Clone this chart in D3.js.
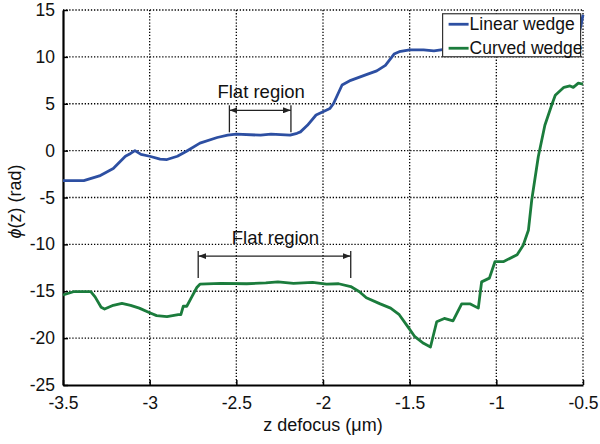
<!DOCTYPE html>
<html>
<head>
<meta charset="utf-8">
<script src="https://cdn.jsdelivr.net/npm/d3@7"></script>
<style>
  body { margin: 0; background: #fff; }
  svg text { font-family: "Liberation Sans", Arial, sans-serif; fill: #111; }
</style>
</head>
<body>
<div class="chart"></div>
<script>
// ---- data ----
const xTicks = [-3.5, -3, -2.5, -2, -1.5, -1, -0.5]
const yTicks = [-25, -20, -15, -10, -5, 0, 5, 10, 15]

const linearZ = [-3.5,-3.38,-3.29,-3.21,-3.14,-3.11,-3.085,-3.05,-3.0,-2.94,-2.9,-2.84,-2.79,-2.71,-2.61,-2.55,-2.5,-2.36,-2.3,-2.19,-2.15,-2.13,-2.09,-2.04,-1.96,-1.94,-1.89,-1.84,-1.75,-1.69,-1.64,-1.59,-1.56,-1.5,-1.42,-1.36,-1.3,-1.1,-0.9,-0.7,-0.58,-0.53,-0.51,-0.5]
const linearPhi = [-3.2,-3.2,-2.7,-1.9,-0.6,-0.3,0.0,-0.4,-0.6,-0.9,-0.95,-0.6,-0.1,0.8,1.4,1.65,1.75,1.65,1.75,1.65,1.85,2.0,2.7,3.8,4.5,5.0,7.0,7.5,8.1,8.5,9.1,10.3,10.55,10.75,10.75,10.65,10.8,10.9,11.0,11.2,11.5,12.0,13.5,14.5]

const curvedZ = [-3.5,-3.44,-3.34,-3.315,-3.28,-3.26,-3.21,-3.16,-3.11,-3.06,-3.0,-2.96,-2.9,-2.835,-2.82,-2.806,-2.786,-2.757,-2.728,-2.71,-2.59,-2.44,-2.33,-2.26,-2.17,-2.06,-1.98,-1.91,-1.84,-1.79,-1.75,-1.67,-1.61,-1.56,-1.51,-1.47,-1.42,-1.38,-1.344,-1.3,-1.25,-1.2,-1.15,-1.104,-1.085,-1.04,-1.008,-0.96,-0.88,-0.845,-0.815,-0.796,-0.758,-0.72,-0.68,-0.66,-0.61,-0.575,-0.556,-0.527,-0.5]
const curvedPhi = [-15.4,-15.05,-15.05,-15.6,-16.7,-16.9,-16.5,-16.3,-16.5,-16.8,-17.3,-17.6,-17.7,-17.5,-17.5,-16.6,-16.6,-15.6,-14.6,-14.25,-14.15,-14.2,-14.1,-14.0,-14.15,-14.05,-14.25,-14.2,-14.5,-15.05,-15.7,-16.35,-16.8,-17.5,-18.8,-19.85,-20.55,-20.95,-18.25,-17.9,-18.15,-16.35,-16.35,-16.8,-14.0,-13.6,-11.85,-11.85,-11.1,-10.1,-8.5,-5.3,-0.65,2.7,4.9,5.9,6.75,6.9,6.75,7.2,7.1]

const seriesNames = ["Linear wedge", "Curved wedge"]
const seriesColors = ["#2d4fa2", "#1b7c3c"]

// flat region annotations: z range and phi where the arrow sits
const flatFrom = [-2.54, -2.72]
const flatTo = [-2.185, -1.84]
const flatAt = [4.3, -11.25]
const flatLabel = ["Flat region", "Flat region"]

// ---- layout ----
const dimensions = {
  width: 600,
  height: 444,
  margin: { top: 10, right: 17, bottom: 59, left: 63 },
}
dimensions.boundedWidth = dimensions.width - dimensions.margin.left - dimensions.margin.right
dimensions.boundedHeight = dimensions.height - dimensions.margin.top - dimensions.margin.bottom

const svg = d3.select(".chart").append("svg")
  .attr("width", dimensions.width)
  .attr("height", dimensions.height)

const bounds = svg.append("g")
  .attr("transform", `translate(${dimensions.margin.left},${dimensions.margin.top})`)

const xScale = d3.scaleLinear().domain([-3.5, -0.5]).range([0, dimensions.boundedWidth])
const yScale = d3.scaleLinear().domain([-25, 15]).range([dimensions.boundedHeight, 0])

// dotted grid
bounds.append("g").selectAll("line")
  .data(xTicks.slice(1))
  .join("line")
    .attr("x1", d => xScale(d)).attr("x2", d => xScale(d))
    .attr("y1", 0).attr("y2", dimensions.boundedHeight)
    .attr("stroke", "#000").attr("stroke-width", 1.3).attr("stroke-dasharray", "1.3,1.8")

bounds.append("g").selectAll("line")
  .data(yTicks.slice(1))
  .join("line")
    .attr("y1", d => yScale(d)).attr("y2", d => yScale(d))
    .attr("x1", 0).attr("x2", dimensions.boundedWidth)
    .attr("stroke", "#000").attr("stroke-width", 1.3).attr("stroke-dasharray", "1.3,1.8")

// axes
const xAxis = d3.axisBottom(xScale).tickValues(xTicks).tickSizeInner(-5).tickSizeOuter(0).tickPadding(12)
  .tickFormat(d => String(d))
const yAxis = d3.axisLeft(yScale).tickValues(yTicks).tickSizeInner(-5).tickSizeOuter(0).tickPadding(8)
  .tickFormat(d => String(d))

const gx = bounds.append("g")
  .attr("transform", `translate(0,${dimensions.boundedHeight})`)
  .call(xAxis)
const gy = bounds.append("g").call(yAxis)

;[gx, gy].forEach(g => {
  g.select(".domain").attr("stroke", "#000").attr("stroke-width", 2.2)
  g.selectAll(".tick line").attr("stroke", "#000").attr("stroke-width", 1.5)
  g.selectAll(".tick text")
    .attr("font-family", "Liberation Sans, Arial, sans-serif")
    .attr("font-size", 17.5).attr("fill", "#111")
})
gx.selectAll(".tick text").attr("dy", "0.71em")

// lines
const line = d3.line().x(d => xScale(d[0])).y(d => yScale(d[1]))
const series = [
  d3.zip(linearZ, linearPhi),
  d3.zip(curvedZ, curvedPhi),
]
bounds.selectAll("path.series")
  .data(series)
  .join("path")
    .attr("class", "series")
    .attr("d", line)
    .attr("fill", "none")
    .attr("stroke", (d, i) => seriesColors[i])
    .attr("stroke-width", 2.8)
    .attr("stroke-linejoin", "round")

// flat region annotations
svg.append("defs").append("marker")
  .attr("id", "arrow")
  .attr("viewBox", "0 0 8 6")
  .attr("refX", 8).attr("refY", 3)
  .attr("markerWidth", 8).attr("markerHeight", 6)
  .attr("markerUnits", "userSpaceOnUse")
  .attr("orient", "auto-start-reverse")
  .append("path").attr("d", "M0,0 L8,3 L0,6 Z").attr("fill", "#222")

const flats = flatFrom.map((f, i) => ({ from: f, to: flatTo[i], at: flatAt[i], label: flatLabel[i] }))
const ann = bounds.append("g").selectAll("g").data(flats).join("g")
ann.append("line")
  .attr("x1", d => xScale(d.from)).attr("x2", d => xScale(d.to))
  .attr("y1", d => yScale(d.at)).attr("y2", d => yScale(d.at))
  .attr("stroke", "#222").attr("stroke-width", 1.3)
  .attr("marker-start", "url(#arrow)").attr("marker-end", "url(#arrow)")
ann.selectAll("line.bar")
  .data(d => [d.from, d.to].map(z => ({ z, at: d.at })))
  .join("line")
    .attr("class", "bar")
    .attr("x1", d => xScale(d.z)).attr("x2", d => xScale(d.z))
    .attr("y1", d => yScale(d.at) - 5).attr("y2", d => yScale(d.at) + 22)
    .attr("stroke", "#222").attr("stroke-width", 1.3)
ann.append("text")
  .attr("x", d => (xScale(d.from) + xScale(d.to)) / 2 + 1)
  .attr("y", d => yScale(d.at) - 12)
  .attr("text-anchor", "middle")
  .attr("font-size", 18.5)
  .text(d => d.label)

// legend
const legend = bounds.append("g")
  .attr("transform", `translate(${xScale(-1.31)},${yScale(14.6)})`)
legend.append("rect")
  .attr("width", 138).attr("height", 43)
  .attr("fill", "#fff").attr("stroke", "#333").attr("stroke-width", 1.2)
const items = legend.selectAll("g.item").data(seriesNames).join("g")
  .attr("class", "item")
  .attr("transform", (d, i) => `translate(0,${10.5 + i * 24})`)
items.append("line")
  .attr("x1", 6).attr("x2", 26)
  .attr("stroke", (d, i) => seriesColors[i]).attr("stroke-width", 2.8)
items.append("text")
  .attr("x", 27).attr("dy", "0.35em")
  .attr("font-size", 17.5)
  .text(d => d)

// axis labels
svg.append("text")
  .attr("x", dimensions.margin.left + dimensions.boundedWidth / 2)
  .attr("y", 431)
  .attr("text-anchor", "middle")
  .attr("font-size", 18)
  .text("z defocus (μm)")

const ylab = svg.append("text")
  .attr("transform", `translate(21,${dimensions.margin.top + dimensions.boundedHeight / 2 + 4}) rotate(-90)`)
  .attr("text-anchor", "middle")
  .attr("font-size", 18)
ylab.append("tspan").attr("font-style", "italic").text("ϕ")
ylab.append("tspan").text("(z) (rad)")
</script>
</body>
</html>
